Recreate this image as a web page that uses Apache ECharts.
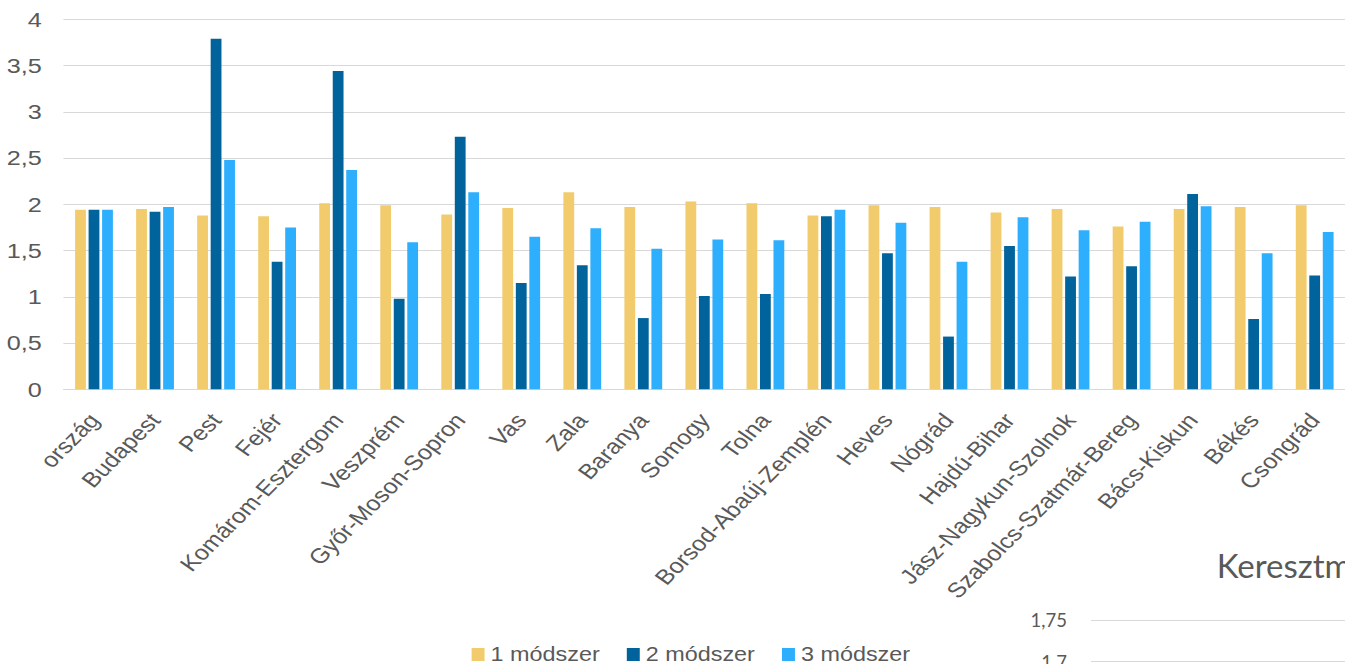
<!DOCTYPE html>
<html>
<head>
<meta charset="utf-8">
<script src="https://cdn.jsdelivr.net/npm/echarts@6/dist/echarts.min.js"></script>
<style>
  html, body { margin: 0; padding: 0; background: #ffffff; overflow: hidden; }
  #wrap { position: relative; width: 1345px; height: 664px; overflow: hidden; }
  #main { position: absolute; left: 0; top: 0; width: 1121px; height: 664px; transform: scaleX(1.2); transform-origin: 0 0; }
  #ov { position: absolute; left: 990px; top: 530px; width: 355px; height: 160px; }
</style>
</head>
<body>
<div id="wrap">
  <div id="main"></div>
  <div id="ov"></div>
</div>
<script>
const categories = ["ország","Budapest","Pest","Fejér","Komárom-Esztergom","Veszprém","Győr-Moson-Sopron","Vas","Zala","Baranya","Somogy","Tolna","Borsod-Abaúj-Zemplén","Heves","Nógrád","Hajdú-Bihar","Jász-Nagykun-Szolnok","Szabolcs-Szatmár-Bereg","Bács-Kiskun","Békés","Csongrád"];
const seriesNames = ["1 módszer","2 módszer","3 módszer"];
const modszer1 = [1.94,1.95,1.88,1.87,2.01,1.99,1.89,1.96,2.13,1.97,2.03,2.01,1.88,1.99,1.97,1.91,1.95,1.76,1.95,1.97,1.99];
const modszer2 = [1.94,1.92,3.79,1.38,3.44,0.98,2.73,1.15,1.34,0.77,1.01,1.03,1.87,1.47,0.57,1.55,1.22,1.33,2.11,0.76,1.23];
const modszer3 = [1.94,1.97,2.48,1.75,2.37,1.59,2.13,1.65,1.74,1.52,1.62,1.61,1.94,1.80,1.38,1.86,1.72,1.81,1.98,1.47,1.70];
const overlayTitle = "Keresztm";
const overlayTicks = [170, 175]; // hundredths: 1,7 and 1,75

const colors = ["#F2CB6D", "#00639B", "#2DAFFE"];
const fontMain = "Arial";
const fontOv = "Lato";
const comma = v => String(v).replace('.', ',');

const main = echarts.init(document.getElementById('main'), null, { renderer: 'svg' });
main.setOption({
  animation: false,
  backgroundColor: '#ffffff',
  color: colors,
  textStyle: { fontFamily: fontMain },
  grid: { left: 52.9, right: -10.3, top: 19.3, bottom: 274.7, containLabel: false },
  legend: {
    data: seriesNames,
    left: 393, top: 644.5, padding: 0,
    itemWidth: 10.8, itemHeight: 13, itemGap: 22.5,
    icon: 'rect',
    textStyle: { fontSize: 19.5, color: '#595959', fontFamily: fontMain }
  },
  xAxis: {
    type: 'category',
    data: categories,
    axisTick: { show: false },
    axisLine: { lineStyle: { color: '#d9d9d9', width: 1 } },
    axisLabel: { interval: 0, rotate: 50, fontSize: 21, color: '#595959', margin: 27, fontFamily: fontMain }
  },
  yAxis: {
    type: 'value',
    min: 0, max: 4, interval: 0.5,
    axisLine: { show: false },
    axisTick: { show: false },
    splitLine: { lineStyle: { color: '#d9d9d9', width: 1 } },
    axisLabel: { fontSize: 21, color: '#595959', margin: 18, formatter: comma, fontFamily: fontMain }
  },
  series: [
    { name: seriesNames[0], type: 'bar', data: modszer1, barWidth: 9, barGap: '25%' },
    { name: seriesNames[1], type: 'bar', data: modszer2, barWidth: 9, barGap: '25%' },
    { name: seriesNames[2], type: 'bar', data: modszer3, barWidth: 9, barGap: '25%' }
  ]
});

const ov = echarts.init(document.getElementById('ov'), null, { renderer: 'svg' });
ov.setOption({
  animation: false,
  backgroundColor: 'transparent',
  title: {
    text: overlayTitle, left: 226.7, top: 18, padding: 0,
    textStyle: { fontFamily: fontOv, fontSize: 33, fontWeight: 'normal', color: '#595959' }
  },
  grid: { left: 101, right: -10, top: 90, bottom: 28.3, containLabel: false },
  xAxis: { type: 'category', data: [''], show: false },
  yAxis: {
    type: 'value', min: overlayTicks[0], max: overlayTicks[1], interval: 5,
    axisLine: { show: false }, axisTick: { show: false },
    splitLine: { lineStyle: { color: '#d9d9d9', width: 1 } },
    axisLabel: { fontSize: 18.5, color: '#595959', margin: 24, fontFamily: fontOv, verticalAlign: 'middle',
                 formatter: v => comma(v / 100) }
  },
  series: [{ type: 'line', data: [] }]
});
</script>
</body>
</html>
